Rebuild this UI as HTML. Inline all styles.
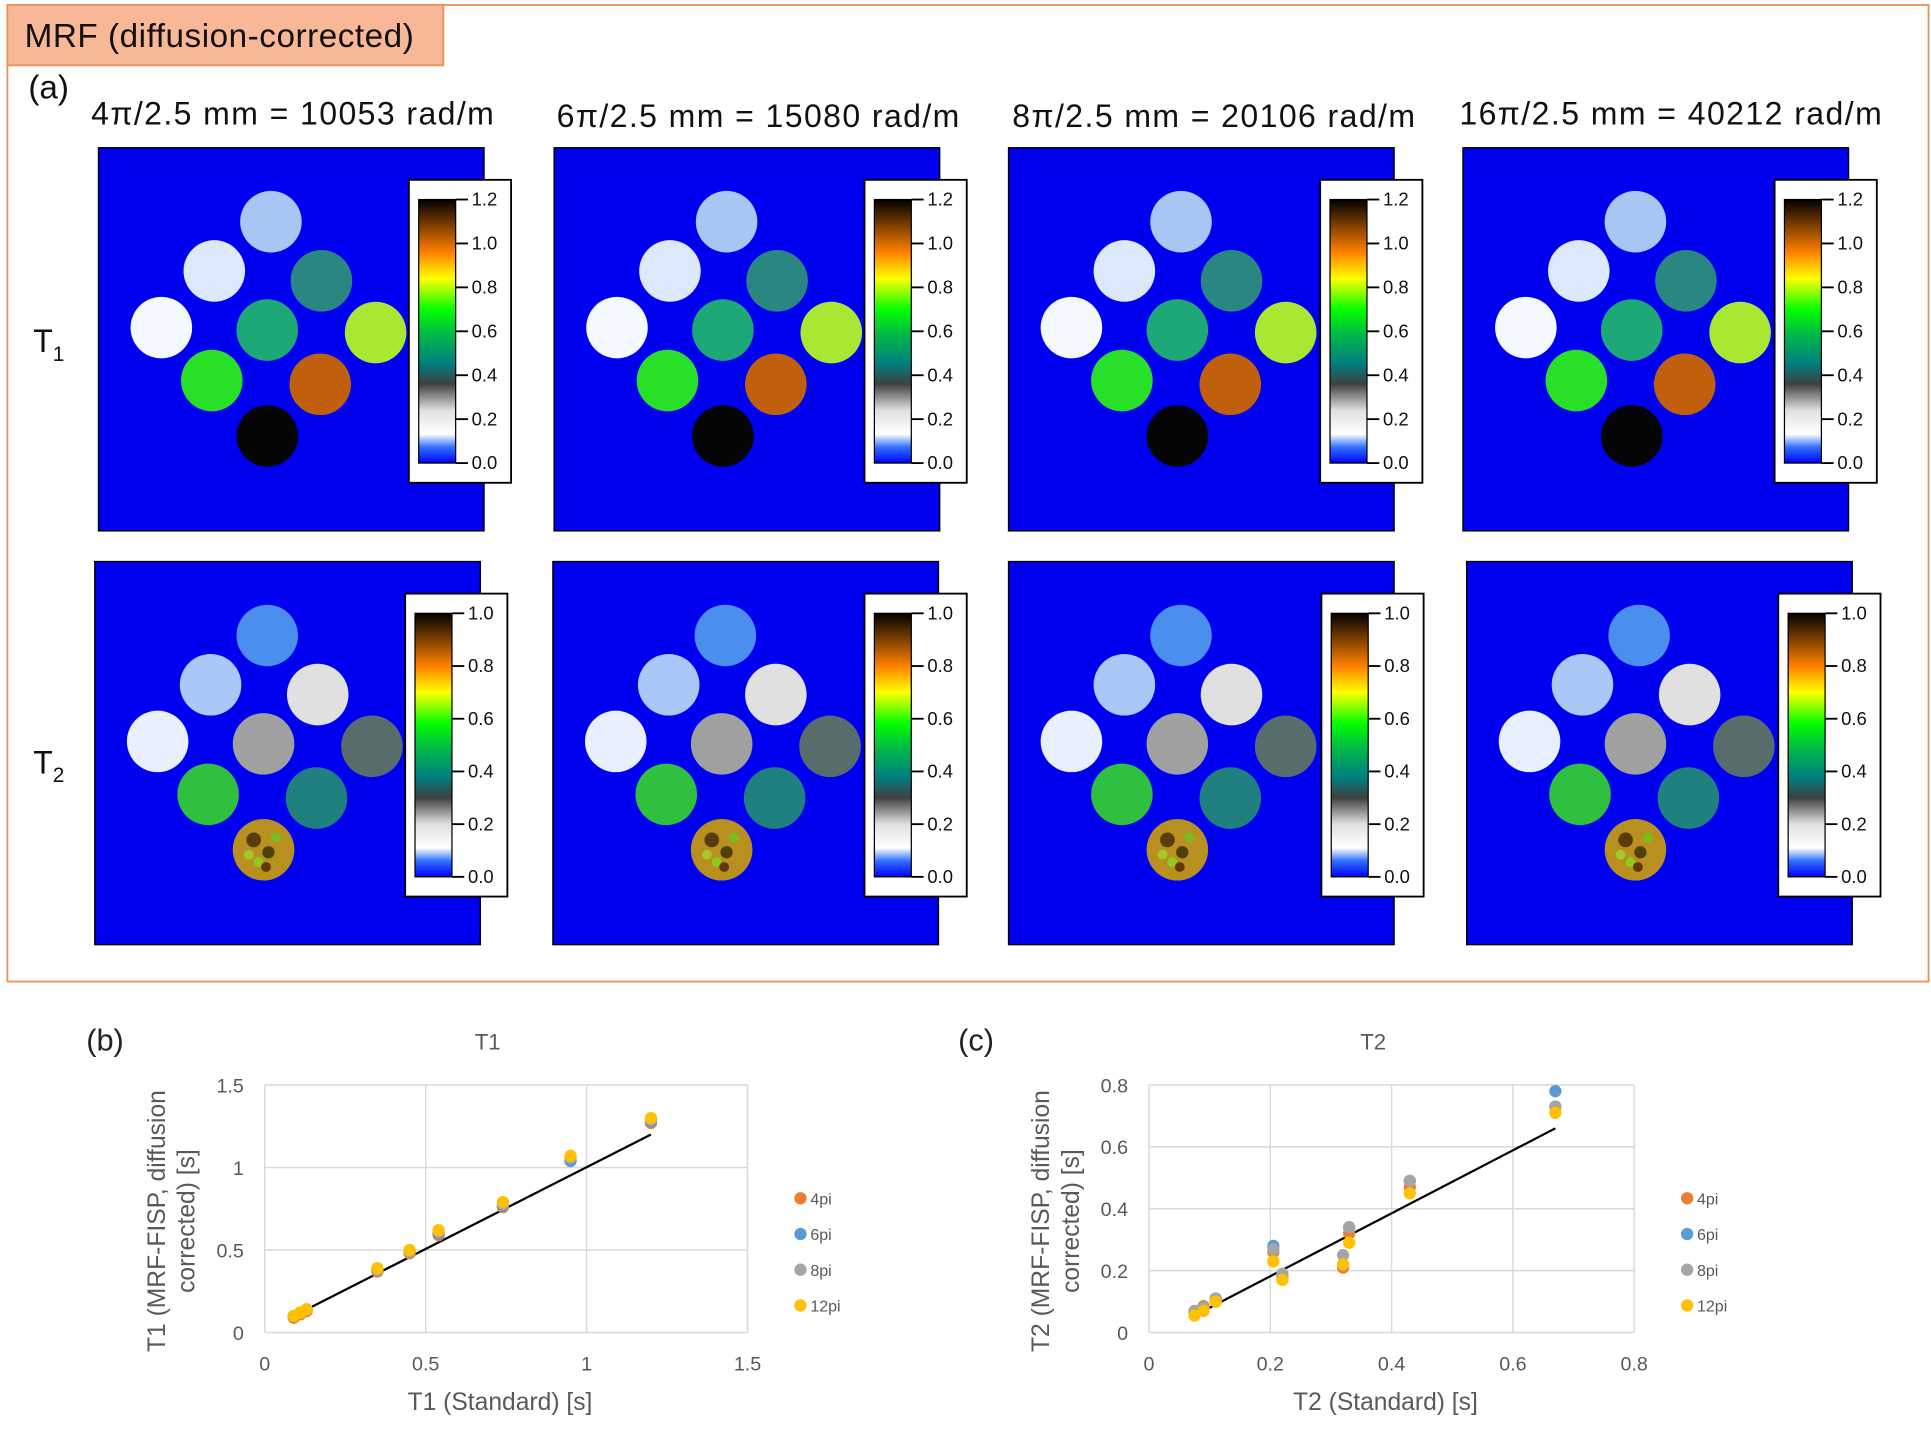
<!DOCTYPE html>
<html><head><meta charset="utf-8">
<style>
html,body{margin:0;padding:0;background:#fff;}
svg{display:block;font-family:"Liberation Sans",sans-serif;}
</style></head>
<body>
<svg id="root" width="1931" height="1444" viewBox="0 0 1568 1172.5" xmlns="http://www.w3.org/2000/svg">
<defs>
<linearGradient id="cmap" x1="0" y1="1" x2="0" y2="0">
<stop offset="0" stop-color="#0000ff"/>
<stop offset="0.06" stop-color="#3070ff"/>
<stop offset="0.11" stop-color="#ffffff"/>
<stop offset="0.2" stop-color="#e0e0e0"/>
<stop offset="0.3" stop-color="#404040"/>
<stop offset="0.38" stop-color="#008080"/>
<stop offset="0.5" stop-color="#00c040"/>
<stop offset="0.58" stop-color="#00ff00"/>
<stop offset="0.7" stop-color="#ffff00"/>
<stop offset="0.8" stop-color="#ff8000"/>
<stop offset="0.9" stop-color="#804000"/>
<stop offset="1" stop-color="#000000"/>
</linearGradient>
</defs>
<rect x="6" y="4" width="1560" height="793" fill="none" stroke="#e8945a" stroke-width="1.5"/>
<rect x="6" y="4" width="354" height="49" fill="#f8b898" stroke="#e8945a" stroke-width="1.5"/>
<text x="20" y="38" font-size="27" fill="#111" textLength="316">MRF (diffusion-corrected)</text>
<text x="23" y="80" font-size="27" fill="#111">(a)</text>
<text x="74" y="101" font-size="26" fill="#111" textLength="327">4π/2.5 mm = 10053 rad/m</text>
<text x="452" y="103" font-size="26" fill="#111" textLength="327">6π/2.5 mm = 15080 rad/m</text>
<text x="822" y="103" font-size="26" fill="#111" textLength="327">8π/2.5 mm = 20106 rad/m</text>
<text x="1185" y="101" font-size="26" fill="#111" textLength="343">16π/2.5 mm = 40212 rad/m</text>
<text x="27" y="286" font-size="26" fill="#111">T<tspan font-size="17" dy="7">1</tspan></text>
<text x="27" y="628" font-size="26" fill="#111">T<tspan font-size="17" dy="7">2</tspan></text>
<g id="maps"></g>

<text x="70" y="853" font-size="25" fill="#222">(b)</text>
<text x="778" y="853" font-size="25" fill="#222">(c)</text>
<g id="chartB"></g>
<g id="chartC"></g>
</svg>
<script>
// ----- scatter data -----
const t1Standard = [0.09, 0.11, 0.13, 0.35, 0.45, 0.54, 0.74, 0.95, 1.20];
const t1_4pi  = [0.09, 0.11, 0.13, 0.37, 0.48, 0.59, 0.76, 1.04, 1.27];
const t1_6pi  = [0.10, 0.12, 0.14, 0.38, 0.49, 0.60, 0.77, 1.04, 1.28];
const t1_8pi  = [0.10, 0.12, 0.14, 0.38, 0.49, 0.61, 0.78, 1.06, 1.29];
const t1_12pi = [0.10, 0.12, 0.14, 0.39, 0.50, 0.62, 0.79, 1.07, 1.30];
const t1Trend = [[0.11, 0.12], [1.20, 1.20]];
const t1Ticks = [0, 0.5, 1, 1.5];

const t2Standard = [0.075, 0.09, 0.11, 0.205, 0.22, 0.32, 0.33, 0.43, 0.67];
const t2_4pi  = [0.065, 0.085, 0.10, 0.26, 0.18, 0.21, 0.32, 0.47, 0.73];
const t2_6pi  = [0.065, 0.08, 0.11, 0.28, 0.18, 0.22, 0.34, 0.49, 0.78];
const t2_8pi  = [0.07, 0.08, 0.11, 0.27, 0.19, 0.25, 0.34, 0.49, 0.73];
const t2_12pi = [0.055, 0.07, 0.10, 0.23, 0.17, 0.22, 0.29, 0.45, 0.71];
const t2Trend = [[0.09, 0.07], [0.67, 0.66]];
const t2Ticks = [0, 0.2, 0.4, 0.6, 0.8];

const seriesNames = ['4pi', '6pi', '8pi', '12pi'];
const seriesColors = ['#ed7d31', '#5b9bd5', '#a5a5a5', '#ffc000'];

// ----- map data -----
const t1Fills = ['#a8c6f4','#dce8fc','#2a8680','#f4f8ff','#1ea878','#a8e832','#28e028','#c0600c','#050505'];
const t2Fills = ['#4a8ef0','#a8c8f8','#e0e0e0','#e8f0ff','#a0a0a0','#586c6c','#30c040','#208080','#b89020'];
const t1CbTicks = ['0.0','0.2','0.4','0.6','0.8','1.0','1.2'];
const t2CbTicks = ['0.0','0.2','0.4','0.6','0.8','1.0'];

const NS = 'http://www.w3.org/2000/svg';
function mk(tag, attrs, parent) {
  const e = document.createElementNS(NS, tag);
  for (const k in attrs) e.setAttribute(k, attrs[k]);
  parent.appendChild(e);
  return e;
}

const circ = [[140,60],[94,100],[181,108],[51,146],[137,148],[225,150],[92,189],[180,192],[137,234]];
const blot = [[-8,-8,6,'#301800'],[4,2,5,'#202000'],[-4,10,4,'#80e020'],[10,-10,4,'#60d020'],[-12,4,4,'#a0e030'],[2,14,4,'#401000']];
const mapsG = document.getElementById('maps');
const panels = [
  {x:80,y:120,cbx:332,cby:146,row:1},{x:450,y:120,cbx:702,cby:146,row:1},
  {x:819,y:120,cbx:1072,cby:146,row:1},{x:1188,y:120,cbx:1441,cby:146,row:1},
  {x:77,y:456,cbx:329,cby:482,row:2},{x:449,y:456,cbx:702,cby:482,row:2},
  {x:819,y:456,cbx:1073,cby:482,row:2},{x:1191,y:456,cbx:1444,cby:482,row:2}
];
panels.forEach((p, i) => {
  const g = mk('g', {}, mapsG);
  
  
  const r = mk('rect', {x:p.x, y:p.y, width:313, height:311, fill:'#0000f0', stroke:'#000', 'stroke-width':1.2}, g);
  
  
  const fills = p.row === 1 ? t1Fills : t2Fills;
  circ.forEach((c, j) => {
    const cc = mk('circle', {cx:p.x+c[0], cy:p.y+c[1], r:25, fill:fills[j]}, g);
    
    
  });
  if (p.row === 2) {
    blot.forEach(b => {
      const sp = mk('circle', {cx:p.x+137+b[0], cy:p.y+234+b[1], r:b[2], fill:b[3], opacity:0.7}, g);
      
      
    });
  }
  const box = mk('rect', {x:p.cbx, y:p.cby, width:83, height:246, fill:'#fff', stroke:'#000', 'stroke-width':1.5}, g);
  
  
  const bar = mk('rect', {x:p.cbx+8, y:p.cby+16, width:30, height:214, fill:'url(#cmap)', stroke:'#000', 'stroke-width':1}, g);
  
  
  const ticks = p.row === 1 ? t1CbTicks : t2CbTicks;
  ticks.forEach((t, k) => {
    const yy = p.cby + 16 + 214 - k * 214 / (ticks.length - 1);
    mk('line', {x1:p.cbx+38, x2:p.cbx+48, y1:yy, y2:yy, stroke:'#000', 'stroke-width':1.5}, g);
    const tx = mk('text', {x:p.cbx+51, y:yy+5, 'font-size':15, fill:'#111'}, g);
    tx.textContent = t;
    
    
  });
});

function chart(gid, cfg) {
  const g = document.getElementById(gid);
  const X = v => cfg.x0 + (v - cfg.xmin) / (cfg.xmax - cfg.xmin) * (cfg.x1 - cfg.x0);
  const Y = v => cfg.y0 - (v - cfg.ymin) / (cfg.ymax - cfg.ymin) * (cfg.y0 - cfg.y1);
  cfg.ticks.forEach(t => {
    const gl = mk('line', {x1:X(t), x2:X(t), y1:cfg.y1, y2:cfg.y0, stroke:'#d9d9d9', 'stroke-width':1.2}, g);
    
    
    const gh = mk('line', {x1:cfg.x0, x2:cfg.x1, y1:Y(t), y2:Y(t), stroke:'#d9d9d9', 'stroke-width':1.2}, g);
    
    
    const xl = mk('text', {x:X(t), y:cfg.y0+31, 'font-size':16, fill:'#595959', 'text-anchor':'middle'}, g);
    xl.textContent = String(t);
    
    
    const yl = mk('text', {x:cfg.x0-17, y:Y(t)+6, 'font-size':16, fill:'#595959', 'text-anchor':'end'}, g);
    yl.textContent = String(t);
    
    
  });
  const tr = mk('line', {x1:X(cfg.trend[0][0]), y1:Y(cfg.trend[0][1]), x2:X(cfg.trend[1][0]), y2:Y(cfg.trend[1][1]), stroke:'#000', 'stroke-width':1.8}, g);
  
  
  cfg.series.forEach((s, si) => {
    s.forEach((v, i) => {
      const c = mk('circle', {cx:X(cfg.xs[i]), cy:Y(v), r:5, fill:seriesColors[si]}, g);
      
      
    });
    const lc = mk('circle', {cx:cfg.legX, cy:cfg.legY + si*29, r:5, fill:seriesColors[si]}, g);
    
    
    const lt = mk('text', {x:cfg.legX+8, y:cfg.legY + si*29 + 5, 'font-size':13, fill:'#595959'}, g);
    lt.textContent = seriesNames[si];
    
    
  });
  const tt = mk('text', {x:(cfg.x0+cfg.x1)/2 - 15, y:852, 'font-size':18, fill:'#595959', 'text-anchor':'middle'}, g);
  tt.textContent = cfg.title;
  
  
  const xt = mk('text', {x:(cfg.x0+cfg.x1)/2 - 5, y:1145, 'font-size':20, fill:'#595959', 'text-anchor':'middle'}, g);
  xt.textContent = cfg.xlabel;
  
  
  const yt = mk('text', {transform:'translate(' + (cfg.x0-81) + ',' + ((cfg.y0+cfg.y1)/2 + 10) + ') rotate(-90)', 'font-size':20, fill:'#595959', 'text-anchor':'middle'}, g);
  mk('tspan', {x:0, dy:0}, yt).textContent = cfg.ylabel1;
  mk('tspan', {x:0, dy:24}, yt).textContent = cfg.ylabel2;
  
  
}

chart('chartB', {x0:215, x1:607, y0:1082, y1:881, xmin:0, xmax:1.5, ymin:0, ymax:1.5,
  ticks:t1Ticks, xs:t1Standard, series:[t1_4pi, t1_6pi, t1_8pi, t1_12pi], trend:t1Trend,
  legX:650, legY:973, title:'T1', xlabel:'T1 (Standard) [s]',
  ylabel1:'T1 (MRF-FISP, diffusion', ylabel2:'corrected) [s]'});
chart('chartC', {x0:933, x1:1327, y0:1082, y1:881, xmin:0, xmax:0.8, ymin:0, ymax:0.8,
  ticks:t2Ticks, xs:t2Standard, series:[t2_4pi, t2_6pi, t2_8pi, t2_12pi], trend:t2Trend,
  legX:1370, legY:973, title:'T2', xlabel:'T2 (Standard) [s]',
  ylabel1:'T2 (MRF-FISP, diffusion', ylabel2:'corrected) [s]'});
</script>
</body></html>
